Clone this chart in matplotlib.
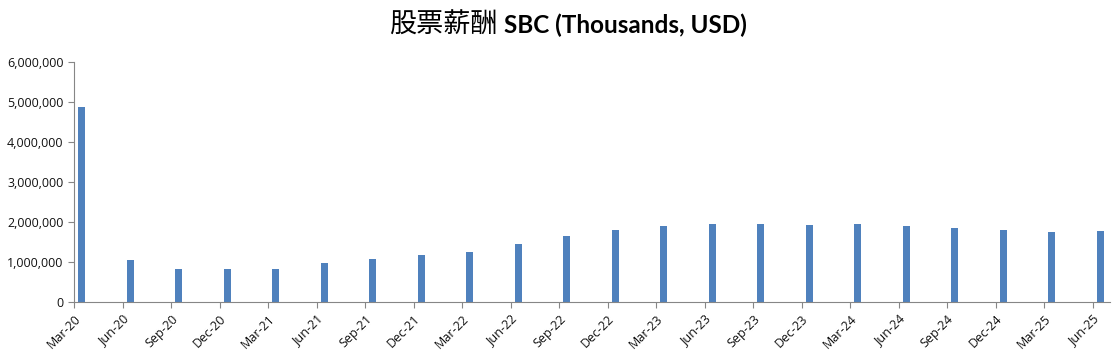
import matplotlib
matplotlib.use("Agg")
import matplotlib.pyplot as plt
import matplotlib.transforms as mtransforms
from matplotlib.ticker import FuncFormatter, MultipleLocator

quarters = ["Mar-20", "Jun-20", "Sep-20", "Dec-20", "Mar-21", "Jun-21", "Sep-21",
            "Dec-21", "Mar-22", "Jun-22", "Sep-22", "Dec-22", "Mar-23", "Jun-23",
            "Sep-23", "Dec-23", "Mar-24", "Jun-24", "Sep-24", "Dec-24", "Mar-25",
            "Jun-25"]
sbc = [4870000, 1050000, 825000, 825000, 825000, 980000, 1075000,
       1180000, 1260000, 1460000, 1660000, 1810000, 1910000, 1960000,
       1960000, 1930000, 1960000, 1910000, 1860000, 1810000, 1760000,
       1780000]

fig = plt.figure(figsize=(11.15, 3.63), dpi=100)
ax = fig.add_axes([0.0664, 0.168, 0.9291, 0.661])

x = list(range(len(quarters)))
ax.bar([i + 0.16 for i in x], sbc, width=0.137, color="#4F81BD")

ax.set_xlim(0, 21.36)
ax.set_ylim(0, 6000000)
ax.yaxis.set_major_locator(MultipleLocator(1000000))
ax.yaxis.set_major_formatter(FuncFormatter(lambda v, p: f"{v:,.0f}"))

ax.set_xticks(x)
ax.set_xticklabels(quarters, rotation=45, ha="right", rotation_mode="anchor")
off = mtransforms.ScaledTranslation(7 / 72, -4 / 72, fig.dpi_scale_trans)
for lab in ax.get_xticklabels():
    lab.set_transform(lab.get_transform() + off)

for s in ["top", "right"]:
    ax.spines[s].set_visible(False)
for s in ["left", "bottom"]:
    ax.spines[s].set_color("#868686")
ax.tick_params(axis="both", colors="#868686", length=4, labelsize=9,
               labelcolor="#111111")
for lab in ax.get_xticklabels() + ax.get_yticklabels():
    lab.set_fontfamily("Open Sans")

fig.text(0.446, 0.93, "股票薪酬", ha="right", va="center", fontsize=19.5,
         family=["Noto Sans CJK SC", "DejaVu Sans"])
fig.text(0.452, 0.93, "SBC (Thousands, USD)", ha="left", va="center",
         fontsize=17.5, fontweight="bold", family="Lato")

fig.savefig("out.png", dpi=100)
